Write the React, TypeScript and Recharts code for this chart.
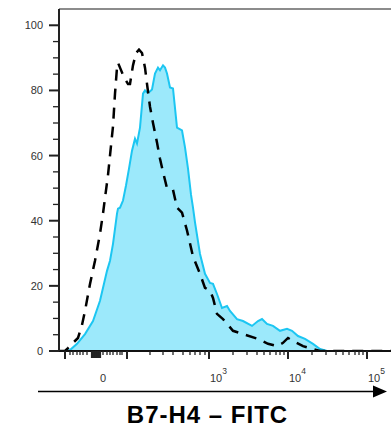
import React from 'react';
import { ComposedChart, Area, Line, XAxis, YAxis, ReferenceLine } from 'recharts';

// Display channel (logicle-scaled position) vs. % of max
const stainedChannel = [0, 7, 11, 18, 26, 34, 41, 48, 51, 54, 58, 59, 61, 64, 67, 70, 73, 76, 78, 81, 84, 86, 88, 91, 93, 96, 99, 101, 104, 106, 108, 111, 114, 118, 123, 126, 129, 132, 134, 136, 141, 146, 151, 154, 158, 163, 168, 171, 178, 184, 193, 199, 203, 208, 214, 221, 228, 233, 239, 246, 254, 261, 268, 332];
const stainedCount = [0, 0, 0.3, 2.2, 5.2, 9.2, 15.4, 24.6, 27.7, 32.9, 42.2, 43.7, 44, 46.2, 50.8, 56, 61.5, 65.2, 63.7, 68.6, 79, 80, 79.4, 79.7, 80.3, 85.2, 87, 86.2, 87.7, 87, 85.2, 80.9, 80.6, 68.6, 67.7, 62.5, 56, 48, 44, 39.5, 29.8, 23.7, 20.9, 20.6, 17.5, 13.2, 13.8, 12.3, 9.8, 9.2, 7.7, 9.2, 9.8, 8.3, 7.7, 6.2, 6.8, 6.2, 4.6, 3.7, 2.2, 0.6, 0, 0];

const controlChannel = [0, 6, 9, 14, 19, 23, 26, 31, 36, 41, 44, 46, 49, 51, 54, 56, 58, 59, 61, 65, 69, 71, 74, 77, 80, 83, 86, 88, 91, 94, 98, 101, 104, 108, 111, 114, 118, 123, 128, 134, 141, 146, 151, 154, 158, 164, 174, 184, 199, 209, 218, 224, 229, 234, 244, 254, 261, 332];
const controlCount = [0, 0, 0.9, 2.5, 4, 8, 12.3, 20.6, 27.7, 36, 42.2, 47, 54, 60, 69, 79, 87, 88.5, 87, 84, 82, 82, 87.7, 91.5, 92.5, 91.5, 87, 82, 75, 70, 64, 59, 55, 50, 50, 49.5, 44, 42.5, 37, 29, 23.7, 19.4, 18.5, 16.3, 11.4, 9.8, 6.2, 5.2, 3.7, 2.2, 1.5, 2.5, 4, 3.1, 1.5, 0.6, 0, 0];

// Axis ticks
const xMajorTicks = [6, 68, 150, 229, 308];
const xZeroTicks = [33, 35, 37, 39, 41];
const xMinorTicks = [11, 14, 18, 21, 24, 28, 44, 48, 51, 54, 58, 61, 63, 91, 104, 114, 124, 131, 136, 141, 146, 174, 188, 198, 205, 211, 217, 221, 225, 253, 267, 277, 284, 290, 296, 300, 304];
const xLabelChannels = [37, 150, 229, 308];
const xLabelBases = ['0', '10', '10', '10'];
const xLabelExponents = ['', '3', '4', '5'];

const yTicks = [0, 5, 10, 15, 20, 25, 30, 35, 40, 45, 50, 55, 60, 65, 70, 75, 80, 85, 90, 95, 100];
const yLabelTicks = [0, 20, 40, 60, 80, 100];

const axisTitle = 'B7-H4 \u2013 FITC';

const stainedData = stainedChannel.map((ch, i) => ({ ch, stained: stainedCount[i] }));
const controlData = controlChannel.map((ch, i) => ({ ch, control: controlCount[i] }));
const allXTicks = Array.from(new Set([...xMajorTicks, ...xZeroTicks, ...xMinorTicks, ...xLabelChannels])).sort((a, b) => a - b);

const FONT = '"Liberation Sans", Arial, Helvetica, sans-serif';
const AXIS = '#222';

const XTick = (props: any) => {
  const { x, y, payload } = props;
  const v = payload.value;
  let len = 4;
  let w = 1.3;
  if (xMajorTicks.includes(v)) { len = 8; w = 2; }
  else if (xZeroTicks.includes(v)) { len = 7; w = 2.2; }
  const li = xLabelChannels.indexOf(v);
  return (
    <g>
      <line x1={x} x2={x} y1={y} y2={y + len} stroke={AXIS} strokeWidth={w} />
      {li >= 0 && (
        xLabelExponents[li] === '' ? (
          <text x={x + 7} y={y + 31} textAnchor="middle" fontSize={11} fontFamily={FONT} fill="#333">{xLabelBases[li]}</text>
        ) : (
          <text x={x + 1} y={y + 31} textAnchor="start" fontSize={11} fontFamily={FONT} fill="#333">
            {xLabelBases[li]}
            <tspan dy={-8} fontSize={8.5}>{xLabelExponents[li]}</tspan>
          </text>
        )
      )}
    </g>
  );
};

const YTick = (props: any) => {
  const { x, y, payload } = props;
  const v = payload.value;
  const major = yLabelTicks.includes(v);
  return (
    <g>
      <line x1={x - (major ? 10 : 6)} x2={x} y1={y} y2={y} stroke={AXIS} strokeWidth={major ? 2 : 1.3} />
      {major && (
        <text x={x - 16} y={y + 4} textAnchor="end" fontSize={11} fontFamily={FONT} fill="#333">{v}</text>
      )}
    </g>
  );
};

const TitleContent = (props: any) => {
  const vb = props.viewBox || { x: 59, y: 351, width: 332, height: 91 };
  const ay = vb.y + 40.5;
  return (
    <g>
      <line x1={vb.x - 21} x2={vb.x + 315} y1={ay} y2={ay} stroke="#000" strokeWidth={1.5} />
      <polygon points={`${vb.x + 314},${ay - 6} ${vb.x + 328},${ay} ${vb.x + 314},${ay + 6}`} fill="#000" />
      <text x={vb.x + 148.5} y={vb.y + 72} textAnchor="middle" fontSize={24} fontWeight="bold" letterSpacing={1} fontFamily={FONT} fill="#000">
        {axisTitle}
      </text>
    </g>
  );
};

export default function App() {
  return (
    <div style={{ position: 'absolute', left: 0, top: 0, width: 391, height: 442, background: '#fff' }}>
      <ComposedChart width={391} height={442} margin={{ top: 9, right: 0, bottom: 0, left: 0 }}>
        <XAxis
          type="number"
          dataKey="ch"
          domain={[0, 332]}
          ticks={allXTicks}
          interval={0}
          height={91}
          tickSize={0}
          tickMargin={0}
          tickLine={false}
          tick={<XTick />}
          axisLine={{ stroke: '#111', strokeWidth: 2 }}
          allowDataOverflow
          label={{ value: axisTitle, content: <TitleContent /> }}
        />
        <YAxis
          type="number"
          domain={[0, 105]}
          ticks={yTicks}
          interval={0}
          width={59}
          tickSize={0}
          tickMargin={0}
          tickLine={false}
          tick={<YTick />}
          axisLine={{ stroke: AXIS, strokeWidth: 2 }}
          allowDataOverflow
        />
        <ReferenceLine y={105} stroke="#8c8c8c" strokeWidth={2} />
        <Area
          data={stainedData}
          dataKey="stained"
          type="linear"
          stroke="#1cc6f2"
          strokeWidth={2}
          fill="#9ce9fb"
          fillOpacity={1}
          isAnimationActive={false}
          dot={false}
          activeDot={false}
        />
        <Line
          data={controlData}
          dataKey="control"
          type="linear"
          stroke="#000"
          strokeWidth={2.5}
          strokeDasharray="11 8"
          dot={false}
          activeDot={false}
          isAnimationActive={false}
        />
      </ComposedChart>
    </div>
  );
}
